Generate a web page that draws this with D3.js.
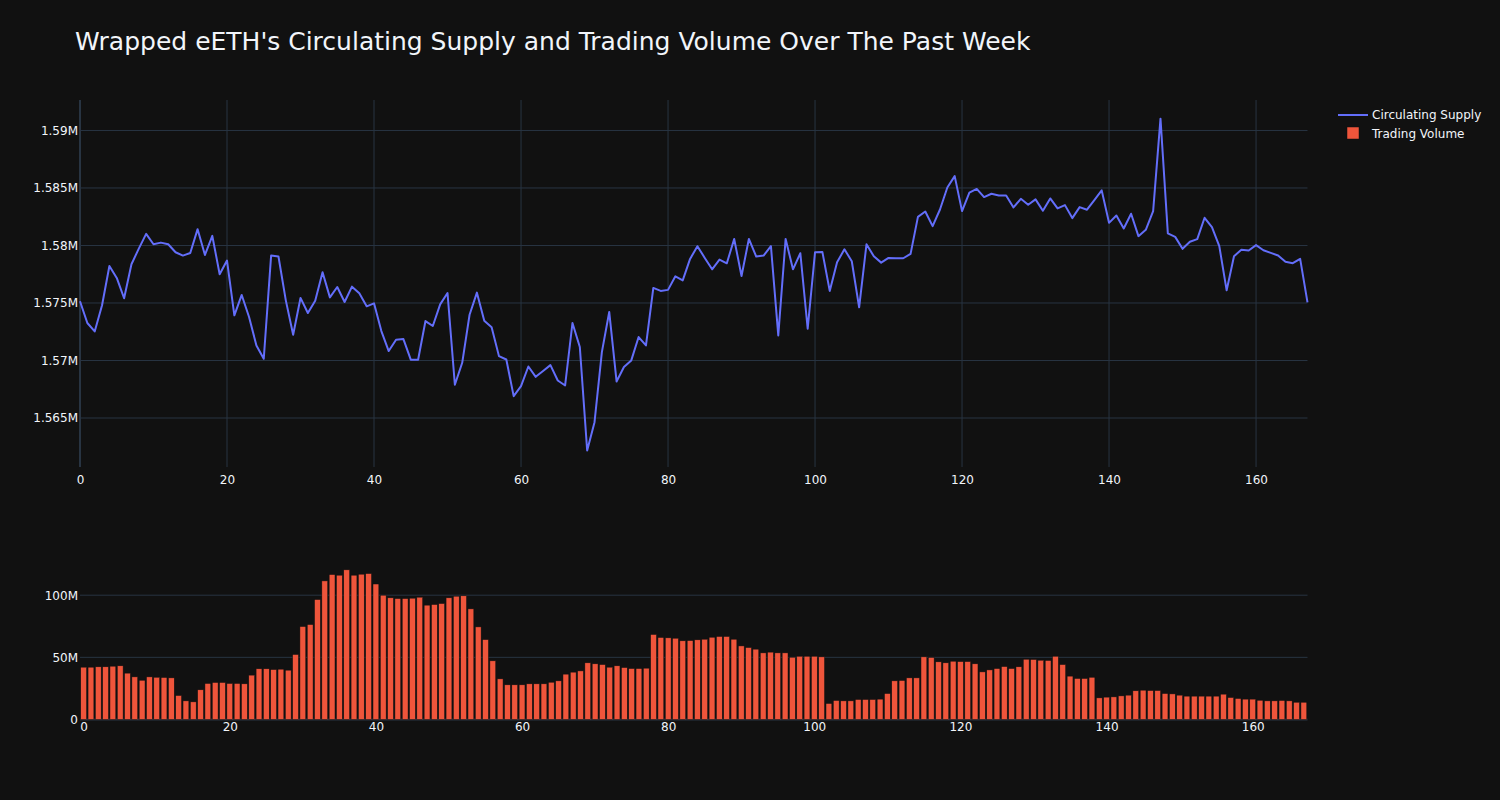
<!DOCTYPE html>
<html><head><meta charset="utf-8">
<script src="https://cdn.jsdelivr.net/npm/d3@7"></script>
<style>body{margin:0;background:#111111;}svg{display:block;}</style>
</head><body>
<script>
const title = "Wrapped eETH's Circulating Supply and Trading Volume Over The Past Week";
const seriesNames = ["Circulating Supply", "Trading Volume"];
const supplyTicks = [1565000, 1570000, 1575000, 1580000, 1585000, 1590000];
const volumeTicks = [0, 50e6, 100e6];
const xTicks = [0, 20, 40, 60, 80, 100, 120, 140, 160];

const supply = [
1.57515,1.57326,1.57253,1.5748,1.57822,1.57718,1.57541,1.57837,1.57973,1.58101,
1.58011,1.58025,1.58011,1.57941,1.57912,1.57935,1.58142,1.57918,1.58084,1.5775,
1.57869,1.57393,1.5757,1.57378,1.57131,1.57015,1.57912,1.57904,1.57523,1.57224,
1.57544,1.57413,1.5752,1.57767,1.57549,1.57639,1.57509,1.57642,1.57584,1.57471,
1.57497,1.57256,1.57082,1.57181,1.57186,1.57007,1.57007,1.57343,1.573,1.57488,
1.57587,1.56789,1.5698,1.57398,1.5759,1.57346,1.5729,1.57038,1.57009,1.5669,
1.56777,1.56948,1.56858,1.56908,1.5696,1.56826,1.56783,1.57326,1.57117,1.56217,
1.56464,1.57073,1.57422,1.56818,1.56943,1.57001,1.57204,1.57131,1.57631,1.57605,
1.57614,1.57732,1.57697,1.57883,1.57994,1.57892,1.57793,1.57877,1.57845,1.58057,
1.57735,1.58057,1.57904,1.57912,1.57994,1.57218,1.58057,1.57793,1.57933,1.57276,
1.57941,1.57944,1.57605,1.57854,1.57967,1.57863,1.57462,1.5801,1.57906,1.57851,
1.57892,1.57889,1.57889,1.57927,1.58249,1.58295,1.58168,1.58313,1.58504,1.58603,
1.58299,1.58459,1.58492,1.58421,1.5845,1.58435,1.58435,1.58331,1.58406,1.58354,
1.58401,1.58302,1.58409,1.58322,1.58351,1.58238,1.58334,1.58311,1.58395,1.58479,
1.58197,1.58261,1.58148,1.58276,1.58081,1.58136,1.58299,1.59103,1.58105,1.58075,
1.57971,1.58032,1.58055,1.58241,1.5816,1.57994,1.5761,1.57907,1.57962,1.57956,
1.58003,1.57959,1.57936,1.57913,1.57858,1.57846,1.57884,1.57506
].map(v => v * 1e6);

const volume = [
42.1,42.1,42.4,42.4,42.9,43.2,37.3,34.3,31.6,34.3,
34.0,33.8,33.5,19.3,15.0,14.2,23.9,29.0,29.8,29.8,
29.0,29.0,28.7,35.7,40.8,40.8,40.2,40.5,39.7,52.3,
74.8,76.4,96.5,111.5,116.6,116.1,120.4,116.1,116.9,117.4,
109.0,100.0,97.9,97.3,97.3,97.6,98.4,92.0,92.5,93.3,
97.9,99.2,99.5,89.0,74.5,64.3,47.2,32.7,27.9,27.9,
27.9,28.7,28.7,28.7,30.0,31.1,36.5,38.1,39.1,45.6,
44.8,44.2,42.1,43.2,41.8,41.0,41.0,41.3,68.4,66.0,
65.7,65.4,63.3,63.5,64.1,64.6,66.2,66.8,66.8,64.6,
59.2,57.9,56.6,53.6,54.2,53.6,53.6,50.1,50.9,50.9,
50.9,50.4,12.9,15.3,15.0,15.0,16.1,16.1,16.1,16.4,
20.9,31.1,31.4,33.5,33.5,50.4,49.9,46.4,45.6,46.9,
46.6,46.6,44.8,38.3,39.9,41.0,42.6,41.0,42.4,48.5,
48.3,47.7,47.5,50.9,44.2,34.9,33.0,33.0,34.0,17.4,
18.0,18.2,19.0,19.6,23.1,23.6,23.3,23.3,20.9,20.6,
19.6,18.8,18.8,18.8,18.8,18.8,20.4,17.7,16.9,16.4,
16.4,15.5,15.0,15.0,15.3,15.0,13.9,13.9
].map(v => v * 1e6);

const hours = d3.range(supply.length);

const W = 1500, H = 800;
const bg = "#111111", grid = "#283442", txt = "#f2f5fa";
const lineColor = "#636efa", barColor = "#EF553B";
const font = "'DejaVu Sans', sans-serif";

const svg = d3.select("body").append("svg").attr("width", W).attr("height", H)
  .style("font-family", font);
svg.append("rect").attr("width", W).attr("height", H).attr("fill", bg);

const L = 80, R = 1307.5;
const top1 = 100, bot1 = 467;
const top2 = 562, bot2 = 719.5;

// Top chart
const x1 = d3.scaleLinear().domain([0, 167]).range([L, R]);
const y1 = d3.scaleLinear().domain([1560740, 1592650]).range([bot1, top1]);

const g1 = svg.append("g");
g1.selectAll("line.vg").data(xTicks).join("line")
  .attr("x1", d => x1(d)).attr("x2", d => x1(d)).attr("y1", top1).attr("y2", bot1)
  .attr("stroke", grid).attr("stroke-width", d => d === 0 ? 2 : 1);
g1.selectAll("line.hg").data(supplyTicks).join("line")
  .attr("x1", L).attr("x2", R).attr("y1", d => y1(d)).attr("y2", d => y1(d))
  .attr("stroke", grid).attr("stroke-width", 1);

const ax1 = svg.append("g").attr("transform", `translate(0,${bot1})`)
  .call(d3.axisBottom(x1).tickValues(xTicks).tickSize(0).tickPadding(8).tickFormat(d3.format("d")));
const ay1 = svg.append("g").attr("transform", `translate(${L},0)`)
  .call(d3.axisLeft(y1).tickValues(supplyTicks).tickSize(0).tickPadding(2)
    .tickFormat(d => (d / 1e6).toString() + "M"));

const line = d3.line().x((d, i) => x1(hours[i])).y(d => y1(d));
svg.append("path").datum(supply).attr("d", line).attr("fill", "none")
  .attr("stroke", lineColor).attr("stroke-width", 2).attr("stroke-linejoin", "round");

// Bottom chart
const x2 = d3.scaleLinear().domain([-0.5, 167.5]).range([L, R]);
const y2 = d3.scaleLinear().domain([0, 126.7e6]).range([bot2, top2]);

svg.append("g").selectAll("line").data(volumeTicks).join("line")
  .attr("x1", L).attr("x2", R).attr("y1", d => y2(d)).attr("y2", d => y2(d))
  .attr("stroke", grid).attr("stroke-width", d => d === 0 ? 2 : 1);

const bw = (x2(1) - x2(0)) * 0.8;
svg.append("g").selectAll("rect").data(volume).join("rect")
  .attr("x", (d, i) => x2(hours[i]) - bw / 2).attr("width", bw)
  .attr("y", d => y2(d)).attr("height", d => y2(0) - y2(d))
  .attr("fill", barColor).attr("stroke", bg).attr("stroke-width", 0.5);

const ax2 = svg.append("g").attr("transform", `translate(0,${bot2})`)
  .call(d3.axisBottom(x2).tickValues(xTicks).tickSize(0).tickPadding(3).tickFormat(d3.format("d")));
const ay2 = svg.append("g").attr("transform", `translate(${L},0)`)
  .call(d3.axisLeft(y2).tickValues(volumeTicks).tickSize(0).tickPadding(2)
    .tickFormat(d => d === 0 ? "0" : (d / 1e6) + "M"));

[ax1, ay1, ax2, ay2].forEach(a => {
  a.select(".domain").remove();
  a.selectAll("text").attr("fill", txt).style("font-size", "12px").style("font-family", font);
});

// Title
svg.append("text").attr("x", 75).attr("y", 50).text(title)
  .attr("fill", txt).style("font-size", "25px").style("font-family", font);

// Legend
const lg = svg.append("g").attr("transform", "translate(1338,0)");
lg.append("line").attr("x1", 0).attr("x2", 30).attr("y1", 115).attr("y2", 115)
  .attr("stroke", lineColor).attr("stroke-width", 2);
lg.append("rect").attr("x", 9).attr("y", 127).attr("width", 12).attr("height", 12)
  .attr("fill", barColor).attr("stroke", bg).attr("stroke-width", 0.5);
lg.selectAll("text").data(seriesNames).join("text")
  .attr("x", 34).attr("y", (d, i) => 119 + i * 19).text(d => d)
  .attr("fill", txt).style("font-size", "12px").style("font-family", font);
</script>
</body></html>
